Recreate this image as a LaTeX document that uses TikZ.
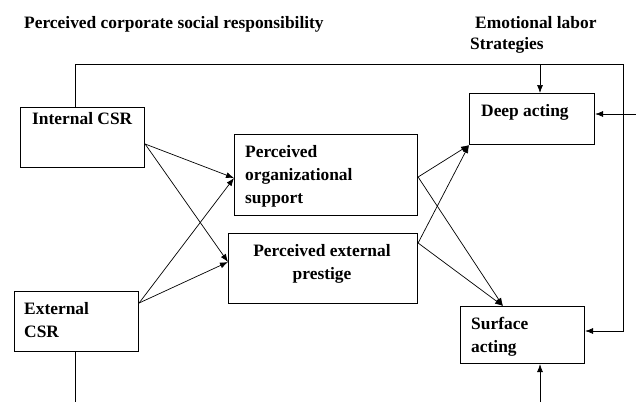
\documentclass[tikz,border=0pt]{standalone}
\usepackage{fontspec}
\setmainfont{Liberation Serif}
\usetikzlibrary{arrows.meta}

\tikzset{
  box/.style={draw,line width=1.1pt,inner sep=0pt,anchor=north west},
  txt/.style={inner sep=0pt,anchor=base west,font=\fontsize{17.4}{23}\selectfont\bfseries},
  link/.style={line width=0.7pt},
  arr/.style={line width=0.7pt,-{Latex[length=8pt,width=6pt]}}
}

\begin{document}
\begin{tikzpicture}[x=1pt,y=-1pt]
\useasboundingbox (0,0) rectangle (636,402);

\node[txt] (csrT) at (24,28) {Perceived corporate social responsibility};
\node[txt] (emoT) at (475,28) {Emotional labor};
\node[txt] (strT) at (470,49) {Strategies};

\node[box,minimum width=124pt,minimum height=60pt] (int) at (20,107) {};
\node[txt] (intT) at (32,124) {Internal CSR};
\node[box,minimum width=124pt,minimum height=60pt] (ext) at (14,291) {};
\node[txt,align=left] (extT) at (24,337) {External\\CSR};

\node[box,minimum width=183pt,minimum height=81pt] (pos) at (234,134) {};
\node[txt,align=left] (posT) at (245,203) {Perceived\\organizational\\support};
\node[box,minimum width=189pt,minimum height=70pt] (pep) at (228,233) {};
\node[txt,align=center,anchor=base] (pepT) at (322,279) {Perceived external\\prestige};

\node[box,minimum width=125pt,minimum height=51pt] (deep) at (469,93) {};
\node[txt] (deepT) at (481,116) {Deep acting};
\node[box,minimum width=124pt,minimum height=57pt] (sur) at (460,306) {};
\node[txt,align=left] (surT) at (471,352) {Surface\\acting};

% paths to the mediators
\draw[arr] (int.east |- 0,144) -- (pos.west |- 0,178);
\draw[arr] (int.east |- 0,144) -- (pep.west |- 0,262);
\draw[arr] (ext.east |- 0,303) -- (pos.west |- 0,178);
\draw[arr] (ext.east |- 0,303) -- (pep.west |- 0,262);

\draw[arr] (pos.east |- 0,177) -- (deep.south west);
\draw[arr] (pep.east |- 0,243) -- (deep.south west);
\draw[arr] (pos.east |- 0,177) -- (sur.north -| 503,0);
\draw[arr] (pep.east |- 0,243) -- (sur.north -| 503,0);

% direct paths
\coordinate (tl) at (75,64);
\coordinate (tr) at (623,64);
\coordinate (dtop) at (540,64);
\coordinate (dright) at (636,114);
\coordinate (ebot) at (75,402);
\coordinate (sbot) at (540,402);
\draw[arr] (int.north -| tl) -- (tl) -- (tr) |- (sur.east |- 0,331);
\draw[arr] (dtop) -- (deep.north -| dtop);
\draw[arr] (dright) -- (deep.east |- dright);
\draw[link] (ext.south -| ebot) -- (ebot);
\draw[arr] (sbot) -- (sur.south -| sbot);
\end{tikzpicture}
\end{document}
